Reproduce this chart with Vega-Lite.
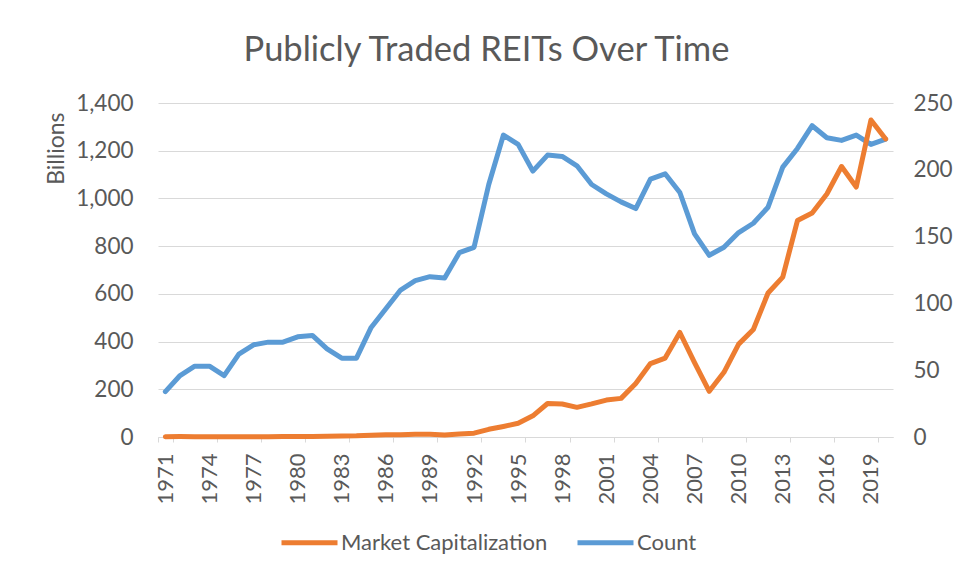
{
  "$schema": "https://vega.github.io/schema/vega-lite/v6.json",
  "width": 735,
  "height": 334,
  "autosize": "none",
  "padding": {"left": 158, "top": 103, "right": 65, "bottom": 140},
  "background": "white",
  "title": {
    "text": "Publicly Traded REITs Over Time",
    "font": "Lato",
    "fontSize": 34.5,
    "fontWeight": "normal",
    "color": "#595959",
    "frame": "group",
    "anchor": "middle",
    "dx": -39,
    "baseline": "alphabetic",
    "offset": -3
  },
  "config": {
    "view": {"stroke": null},
    "font": "Lato"
  },
  "data": {
    "values": [
      {"year": 1971, "cap": 1.5, "count": 34},
      {"year": 1972, "cap": 1.9, "count": 46},
      {"year": 1973, "cap": 1.4, "count": 53},
      {"year": 1974, "cap": 0.7, "count": 53},
      {"year": 1975, "cap": 0.9, "count": 46},
      {"year": 1976, "cap": 1.3, "count": 62},
      {"year": 1977, "cap": 1.5, "count": 69},
      {"year": 1978, "cap": 1.4, "count": 71},
      {"year": 1979, "cap": 1.8, "count": 71},
      {"year": 1980, "cap": 2.3, "count": 75},
      {"year": 1981, "cap": 2.4, "count": 76},
      {"year": 1982, "cap": 3.3, "count": 66},
      {"year": 1983, "cap": 4.3, "count": 59},
      {"year": 1984, "cap": 5.1, "count": 59},
      {"year": 1985, "cap": 7.7, "count": 82},
      {"year": 1986, "cap": 9.9, "count": 96},
      {"year": 1987, "cap": 9.7, "count": 110},
      {"year": 1988, "cap": 11.4, "count": 117},
      {"year": 1989, "cap": 11.7, "count": 120},
      {"year": 1990, "cap": 8.7, "count": 119},
      {"year": 1991, "cap": 13.0, "count": 138},
      {"year": 1992, "cap": 15.9, "count": 142},
      {"year": 1993, "cap": 32.2, "count": 189},
      {"year": 1994, "cap": 44.3, "count": 226},
      {"year": 1995, "cap": 57.5, "count": 219},
      {"year": 1996, "cap": 88.8, "count": 199},
      {"year": 1997, "cap": 140.5, "count": 211},
      {"year": 1998, "cap": 138.3, "count": 210},
      {"year": 1999, "cap": 124.3, "count": 203},
      {"year": 2000, "cap": 138.7, "count": 189},
      {"year": 2001, "cap": 154.9, "count": 182},
      {"year": 2002, "cap": 161.9, "count": 176},
      {"year": 2003, "cap": 224.2, "count": 171},
      {"year": 2004, "cap": 307.9, "count": 193},
      {"year": 2005, "cap": 330.7, "count": 197},
      {"year": 2006, "cap": 438.1, "count": 183},
      {"year": 2007, "cap": 312.0, "count": 152},
      {"year": 2008, "cap": 191.7, "count": 136},
      {"year": 2009, "cap": 271.2, "count": 142},
      {"year": 2010, "cap": 389.3, "count": 153},
      {"year": 2011, "cap": 450.5, "count": 160},
      {"year": 2012, "cap": 603.4, "count": 172},
      {"year": 2013, "cap": 670.3, "count": 202},
      {"year": 2014, "cap": 907.4, "count": 216},
      {"year": 2015, "cap": 938.7, "count": 233},
      {"year": 2016, "cap": 1018.7, "count": 224},
      {"year": 2017, "cap": 1133.7, "count": 222},
      {"year": 2018, "cap": 1047.6, "count": 226},
      {"year": 2019, "cap": 1328.8, "count": 219},
      {"year": 2020, "cap": 1249.2, "count": 223}
    ]
  },
  "encoding": {
    "x": {
      "field": "year",
      "type": "ordinal",
      "bandPosition": 0.5,
      "scale": {"type": "band", "paddingInner": 0, "paddingOuter": 0},
      "axis": {
        "title": null,
        "values": [1971, 1974, 1977, 1980, 1983, 1986, 1989, 1992, 1995, 1998, 2001, 2004, 2007, 2010, 2013, 2016, 2019],
        "tickBand": "extent",
        "labelAngle": -90,
        "labelAlign": "right",
        "labelBaseline": "middle",
        "labelFont": "Lato",
        "labelFontSize": 22,
        "labelColor": "#595959",
        "labelPadding": 11,
        "tickSize": 5,
        "tickColor": "#D9D9D9",
        "domainColor": "#D9D9D9",
        "domainWidth": 1,
        "grid": false
      }
    }
  },
  "layer": [
    {
      "mark": {"type": "line", "strokeWidth": 5, "strokeJoin": "round", "strokeCap": "round"},
      "encoding": {
        "y": {
          "field": "count",
          "type": "quantitative",
          "scale": {"domain": [0, 250]},
          "axis": {
            "orient": "right",
            "title": null,
            "values": [0, 50, 100, 150, 200, 250],
            "format": ".0f",
            "grid": false,
            "domain": false,
            "ticks": false,
            "tickSize": 0,
            "labelPadding": 20,
            "labelFont": "Lato",
            "labelFontSize": 22.5,
            "labelColor": "#595959"
          }
        },
        "color": {
          "datum": "Count",
          "type": "nominal",
          "scale": {"domain": ["Market Capitalization", "Count"], "range": ["#ED7D31", "#5B9BD5"]},
          "legend": {
            "orient": "none",
            "direction": "horizontal",
            "legendX": 121,
            "legendY": 409,
            "title": null,
            "symbolType": "stroke",
            "symbolSize": 3136,
            "symbolStrokeWidth": 5,
            "labelFont": "Lato",
            "labelFontSize": 22,
            "labelColor": "#595959",
            "labelLimit": 400,
            "labelOffset": 1,
            "columnPadding": 19
          }
        }
      }
    },
    {
      "mark": {"type": "line", "strokeWidth": 5, "strokeJoin": "round", "strokeCap": "round"},
      "encoding": {
        "y": {
          "field": "cap",
          "type": "quantitative",
          "scale": {"domain": [0, 1400]},
          "axis": {
            "orient": "left",
            "title": "Billions",
            "titleFont": "Lato",
            "titleFontSize": 23,
            "titleFontWeight": "normal",
            "titleColor": "#595959",
            "titleAngle": -90,
            "titleAlign": "right",
            "titleBaseline": "bottom",
            "titleX": -90,
            "titleY": 9,
            "values": [0, 200, 400, 600, 800, 1000, 1200, 1400],
            "format": ",.0f",
            "grid": true,
            "gridColor": "#D9D9D9",
            "domain": false,
            "ticks": false,
            "tickSize": 0,
            "labelPadding": 25,
            "labelFont": "Lato",
            "labelFontSize": 22.5,
            "labelColor": "#595959"
          }
        },
        "color": {"datum": "Market Capitalization", "type": "nominal"}
      }
    }
  ],
  "resolve": {"scale": {"y": "independent"}}
}
